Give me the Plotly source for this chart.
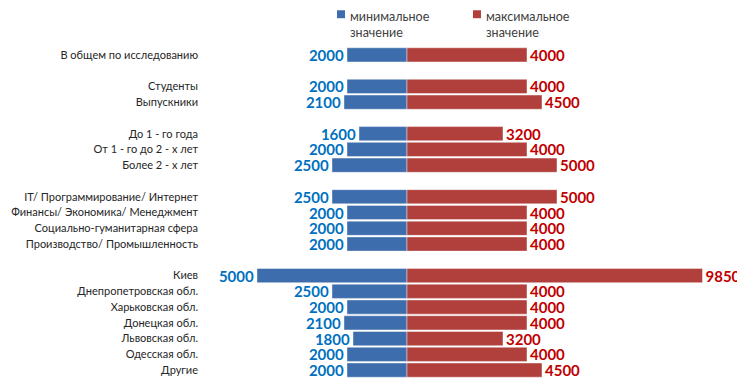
import plotly.graph_objects as go

categories = ["В общем по исследованию",
              "Студенты", "Выпускники",
              "До 1 - го года", "От 1 - го до 2 - х лет", "Более 2 - х лет",
              "IT/ Программирование/ Интернет", "Финансы/ Экономика/ Менеджмент",
              "Социально-гуманитарная сфера", "Производство/ Промышленность",
              "Киев", "Днепропетровская обл.", "Харьковская обл.", "Донецкая обл.",
              "Львовская обл.", "Одесская обл.", "Другие"]
group_sizes = [1, 2, 3, 4, 7]
min_values = [2000, 2000, 2100, 1600, 2000, 2500, 2500, 2000, 2000, 2000,
              5000, 2500, 2000, 2100, 1800, 2000, 2000]
max_values = [4000, 4000, 4500, 3200, 4000, 5000, 5000, 4000, 4000, 4000,
              9850, 4000, 4000, 4000, 3200, 4000, 4500]
series_names = ["минимальное<br>значение", "максимальное<br>значение"]

# slot positions: groups separated by one empty slot
pos = []
slot = 0
for g in group_sizes:
    for _ in range(g):
        pos.append(slot)
        slot += 1
    slot += 1
last_slot = pos[-1]

BLUE = "#3D6DAD"
RED = "#B1403D"
FONT = "Lato"

fig = go.Figure()
fig.add_trace(go.Bar(
    y=pos, x=[-v for v in min_values], orientation="h", name=series_names[0],
    marker=dict(color=BLUE, line=dict(width=0.6, color="rgba(255,255,255,0.7)")),
    text=[str(v) for v in min_values], textposition="outside",
    textfont=dict(family=FONT, size=15, color="#0070C0", weight="bold"),
    cliponaxis=False, constraintext="none", showlegend=False,
))
fig.add_trace(go.Bar(
    y=pos, x=max_values, orientation="h", name=series_names[1],
    marker=dict(color=RED, line=dict(width=0.6, color="rgba(255,255,255,0.7)")),
    text=[str(v) for v in max_values], textposition="outside",
    textfont=dict(family=FONT, size=15, color="#C00000", weight="bold"),
    cliponaxis=False, constraintext="none", showlegend=False,
))

# manual legend (paper coordinates)
legend_items = [(0.2467, BLUE, series_names[0]), (0.5009, RED, series_names[1])]
for lx, col, name in legend_items:
    fig.add_shape(type="rect", xref="paper", yref="paper",
                  x0=lx, x1=lx + 0.015, y0=1.087, y1=1.111,
                  fillcolor=col, line=dict(width=0))
    fig.add_annotation(xref="paper", yref="paper", x=lx + 0.0225, y=1.1175,
                       xanchor="left", yanchor="top", align="left",
                       text=name, showarrow=False, borderpad=0,
                       font=dict(family=FONT, size=12.5, color="#404040"))

fig.update_layout(
    width=737, height=379,
    margin=dict(l=197, r=5, t=39, b=9, autoexpand=False),
    barmode="relative", bargap=0.1,
    paper_bgcolor="white", plot_bgcolor="white",
    font=dict(family=FONT, size=11, color="#262626"),
    showlegend=False,
    xaxis=dict(range=[-6733, 11100], visible=False, fixedrange=True),
    yaxis=dict(range=[last_slot + 0.5, -0.5], tickmode="array", tickvals=pos,
               ticktext=categories, showgrid=False, zeroline=False, showline=False,
               ticks="", ticklabelstandoff=6, automargin=False,
               tickfont=dict(family=FONT, size=11, color="#262626")),
)

fig.write_html("out.html")
